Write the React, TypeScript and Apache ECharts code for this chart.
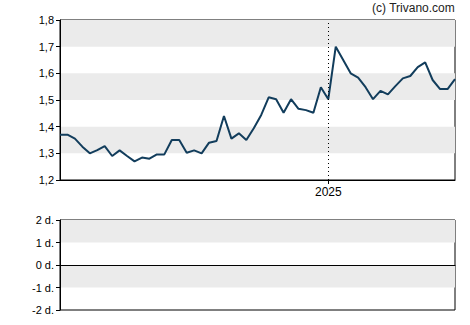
import React, { useEffect, useRef } from "react";
import * as echarts from "echarts";

const prices: number[] = [
  1.37, 1.37, 1.355, 1.325, 1.3, 1.312, 1.327, 1.29, 1.311, 1.29,
  1.27, 1.284, 1.28, 1.296, 1.296, 1.35, 1.35, 1.302, 1.311, 1.3,
  1.34, 1.346, 1.44, 1.355, 1.375, 1.35, 1.394, 1.444, 1.51, 1.503,
  1.452, 1.503, 1.467, 1.462, 1.452, 1.548, 1.503, 1.7, 1.65, 1.6,
  1.584, 1.548, 1.503, 1.534, 1.521, 1.552, 1.581, 1.59, 1.623, 1.641,
  1.575, 1.541, 1.541, 1.578,
];

const yearMarkIndex = 36;
const yearLabel = "2025";
const priceTicks = [1.2, 1.3, 1.4, 1.5, 1.6, 1.7, 1.8];
const lowerTicks = [-2, -1, 0, 1, 2];

// weekly categories ending around mid-2025
const startDate = new Date(Date.UTC(2024, 3, 26));
const categories: string[] = prices.map((_, i) => {
  const d = new Date(startDate.getTime() + i * 7 * 86400000);
  return d.toISOString().slice(0, 10);
});

export default function App() {
  const ref = useRef<HTMLDivElement>(null);
  useEffect(() => {
    if (!ref.current) return;
    document.body.style.margin = "0";
    const chart = echarts.init(ref.current, undefined, { renderer: "svg" });
    const font = "'Liberation Sans', Arial, sans-serif";
    const band = { show: true, areaStyle: { color: ["rgba(0,0,0,0)", "#ebebeb"] } };
    chart.setOption({
      animation: false,
      backgroundColor: "#fff",
      textStyle: { fontFamily: font },
      graphic: [
        {
          type: "text",
          right: 15,
          top: 2,
          style: { text: "(c) Trivano.com", fill: "#222", font: `12px ${font}` },
        },
      ],
      grid: [
        { left: 60, right: 15, top: 20, bottom: 145, show: true, borderColor: "#000", borderWidth: 1, backgroundColor: "transparent" },
        { left: 60, right: 15, top: 220, bottom: 15, show: true, borderColor: "#000", borderWidth: 1, backgroundColor: "transparent" },
      ],
      xAxis: [
        {
          type: "category",
          gridIndex: 0,
          data: categories,
          boundaryGap: false,
          axisLine: { lineStyle: { color: "#000" } },
          axisTick: {
            length: 4,
            lineStyle: { color: "#000" },
            interval: (i: number) => i === yearMarkIndex,
          },
          axisLabel: {
            interval: (i: number) => i === yearMarkIndex,
            formatter: () => yearLabel,
            color: "#000",
            fontSize: 12,
            margin: 6,
            fontFamily: font,
          },
          splitLine: { show: false },
        },
        {
          type: "category",
          gridIndex: 1,
          data: categories,
          boundaryGap: false,
          axisLine: { onZero: true, lineStyle: { color: "#000" } },
          axisTick: { show: false },
          axisLabel: { show: false },
          splitLine: { show: false },
        },
      ],
      yAxis: [
        {
          type: "value",
          gridIndex: 0,
          min: priceTicks[0],
          max: priceTicks[priceTicks.length - 1],
          interval: 0.1,
          axisLine: { show: true, lineStyle: { color: "#000" } },
          axisTick: { show: true, length: 4, lineStyle: { color: "#000" } },
          axisLabel: {
            color: "#000",
            fontSize: 11,
            margin: 6,
            fontFamily: font,
            formatter: (v: number) => v.toFixed(1).replace(".", ","),
          },
          splitLine: { show: false },
          splitArea: band,
        },
        {
          type: "value",
          gridIndex: 1,
          min: lowerTicks[0],
          max: lowerTicks[lowerTicks.length - 1],
          interval: 1,
          axisLine: { show: true, lineStyle: { color: "#000" } },
          axisTick: { show: true, length: 4, lineStyle: { color: "#000" } },
          axisLabel: {
            color: "#000",
            fontSize: 11,
            margin: 6,
            fontFamily: font,
            formatter: (v: number) => `${v} d.`,
          },
          splitLine: { show: false },
          splitArea: band,
        },
      ],
      series: [
        {
          type: "line",
          xAxisIndex: 0,
          yAxisIndex: 0,
          data: prices,
          showSymbol: false,
          lineStyle: { color: "#123d5c", width: 2 },
          markLine: {
            silent: true,
            symbol: "none",
            label: { show: false },
            lineStyle: { color: "#000", type: [1, 3], width: 1 },
            data: [{ xAxis: yearMarkIndex }],
          },
        },
        {
          type: "line",
          xAxisIndex: 1,
          yAxisIndex: 1,
          data: [],
        },
      ],
    });
    return () => chart.dispose();
  }, []);
  return <div ref={ref} style={{ width: 470, height: 325 }} />;
}
